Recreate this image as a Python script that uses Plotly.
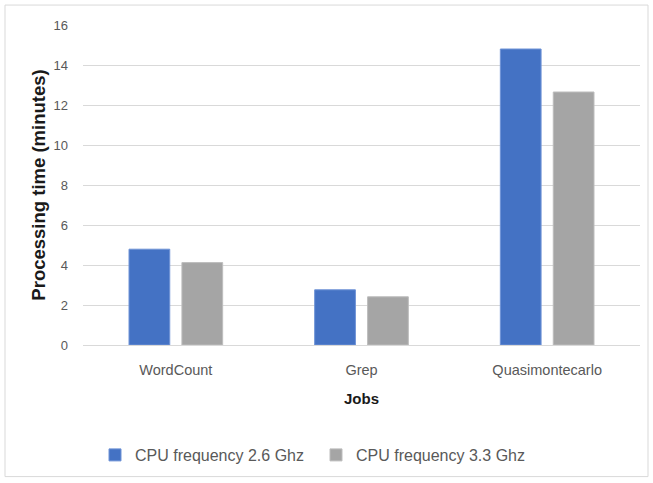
import plotly.graph_objects as go

jobs = ["WordCount", "Grep", "Quasimontecarlo"]
freq_26 = [4.79, 2.76, 14.8]
freq_33 = [4.12, 2.41, 12.65]
series_names = ["CPU frequency 2.6 Ghz", "CPU frequency 3.3 Ghz"]
y_ticks = [0, 2, 4, 6, 8, 10, 12, 14, 16]

W, H = 653, 483
L, R, T, B = 83, 13, 25, 137

fig = go.Figure()
fig.add_trace(go.Bar(x=jobs, y=freq_26, name=series_names[0],
                     marker=dict(color="#4472C4", line=dict(color="#6f93d6", width=1))))
fig.add_trace(go.Bar(x=jobs, y=freq_33, name=series_names[1],
                     marker=dict(color="#A5A5A5", line=dict(color="#bdbdbd", width=1))))

pw = W - L - R
ph = H - T - B
# outer frame around the whole chart
fig.add_shape(type="rect", xref="paper", yref="paper",
              x0=(5 - L) / pw, x1=(648 - L) / pw,
              y0=(H - B - 478) / ph, y1=(H - B - 5) / ph,
              line=dict(color="#d9d9d9", width=1), fillcolor="rgba(0,0,0,0)", layer="below")

font = "Liberation Sans, Arial, sans-serif"
fig.update_layout(
    width=W, height=H,
    margin=dict(l=L, r=R, t=T, b=B),
    paper_bgcolor="white", plot_bgcolor="white",
    barmode="group", bargap=0.43, bargroupgap=0.23,
    font=dict(family=font, size=12, color="#595959"),
    xaxis=dict(
        title=dict(text="<b>Jobs</b>", font=dict(size=15, color="#1a1a1a"), standoff=16),
        tickfont=dict(size=14.5, color="#595959"),
        ticklabelstandoff=12,
        showline=True, linecolor="#d9d9d9", linewidth=1,
        ticks="", showgrid=False,
    ),
    yaxis=dict(
        title=dict(text="<b>Processing time (minutes)</b>", font=dict(size=18.5, color="#1a1a1a"), standoff=3),
        range=[0, 16], tickvals=y_ticks,
        tickfont=dict(size=13, color="#595959"),
        ticklabelstandoff=14,
        showgrid=True, gridcolor="#d9d9d9", gridwidth=1,
        zeroline=False, showline=False, ticks="",
    ),
    legend=dict(
        orientation="h", x=(95 - L) / pw, xanchor="left", y=(H - B - 455) / ph, yanchor="middle",
        font=dict(size=16, color="#595959"), itemwidth=30,
        entrywidth=176, entrywidthmode="pixels",
        traceorder="normal",
    ),
)

fig.write_html("out.html")
